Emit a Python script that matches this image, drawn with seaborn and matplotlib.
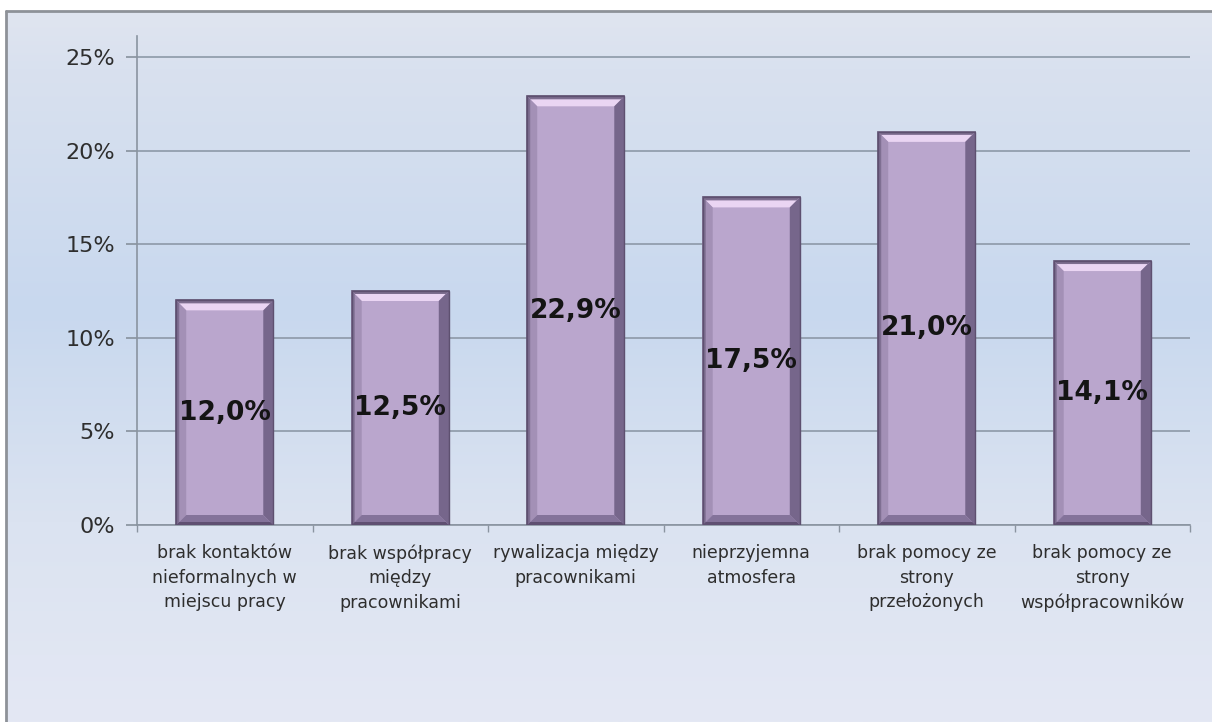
import numpy as np
import matplotlib
matplotlib.use("Agg")
import matplotlib.pyplot as plt
import seaborn as sns
from matplotlib.patches import Polygon
from matplotlib.colors import LinearSegmentedColormap

categories = [
    "brak kontaktów\nnieformalnych w\nmiejscu pracy",
    "brak współpracy\nmiędzy\npracownikami",
    "rywalizacja między\npracownikami",
    "nieprzyjemna\natmosfera",
    "brak pomocy ze\nstrony\nprzełożonych",
    "brak pomocy ze\nstrony\nwspółpracowników",
]
values = [12.0, 12.5, 22.9, 17.5, 21.0, 14.1]
value_labels = ["12,0%", "12,5%", "22,9%", "17,5%", "21,0%", "14,1%"]
yticks = [0, 5, 10, 15, 20, 25]
ytick_labels = ["0%", "5%", "10%", "15%", "20%", "25%"]

sns.set_theme(style="white")
plt.rcParams["font.family"] = ["DejaVu Sans"]

W, H = 1212, 722
fig = plt.figure(figsize=(W / 100, H / 100), dpi=100)
fig.patch.set_facecolor("white")

# background panel with vertical gradient
bg = fig.add_axes([0, 0, 1, 1], zorder=-10)
bg.set_xlim(0, W)
bg.set_ylim(H, 0)
bg.axis("off")
cmap = LinearSegmentedColormap.from_list(
    "bgc",
    [(0.0, "#e0e5f0"), (0.08, "#d9e1ef"), (0.42, "#c8d8ee"),
     (0.72, "#dbe3f1"), (1.0, "#e4e8f4")])
grad = np.linspace(0, 1, 256).reshape(-1, 1)
bg.imshow(grad, cmap=cmap, aspect="auto", extent=[6, W, H, 11], zorder=0)
bg.plot([6, 6], [11, H], color="#8e9298", lw=2, zorder=1)
bg.plot([6, W], [11, 11], color="#8e9298", lw=2, zorder=1)

# main axes
ax_left, ax_right, ax_top, ax_bottom = 137, 1190, 36, 525
ymax = 25 + (57 - 36) / ((525 - 57) / 25)
ax = fig.add_axes([ax_left / W, (H - ax_bottom) / H,
                   (ax_right - ax_left) / W, (ax_bottom - ax_top) / H])
ax.set_facecolor("none")

sns.barplot(x=list(range(len(values))), y=values, ax=ax, width=0.553,
            color="#baa6cd", saturation=1, edgecolor="#5e5070", linewidth=1.2,
            zorder=3)
ax.set_xlim(-0.5, len(values) - 0.5)
ax.set_ylim(0, ymax)

# bevel effect on bars
px_x = (ax_right - ax_left) / len(values)
px_y = (ax_bottom - ax_top) / ymax
bx = 10 / px_x
by = 10 / px_y
lx = 3 / px_x
ly = 3 / px_y
for p in ax.patches:
    x0, w, h = p.get_x(), p.get_width(), p.get_height()
    x1 = x0 + w
    faces = [
        ([(x0, h), (x1, h), (x1 - bx, h - by), (x0 + bx, h - by)], "#ead5f3"),
        ([(x0, h), (x1, h), (x1 - lx, h - ly), (x0 + lx, h - ly)], "#7d6d8f"),
        ([(x0, 0), (x0, h), (x0 + bx, h - by), (x0 + bx, by)], "#a390b6"),
        ([(x0, 0), (x0, h), (x0 + lx, h - ly), (x0 + lx, ly)], "#7f6f92"),
        ([(x1, 0), (x1, h), (x1 - bx, h - by), (x1 - bx, by)], "#76668b"),
        ([(x0, 0), (x1, 0), (x1 - bx, by), (x0 + bx, by)], "#84739a"),
        ([(x0, 0), (x1, 0), (x1 - lx, ly), (x0 + lx, ly)], "#5f5072"),
    ]
    for pts, c in faces:
        ax.add_patch(Polygon(pts, closed=True, facecolor=c, edgecolor="none",
                             zorder=4))
    ax.add_patch(Polygon([(x0, 0), (x0, h), (x1, h), (x1, 0)], closed=True,
                         facecolor="none", edgecolor="#5e5070", lw=1.0,
                         zorder=5))

for i, (v, lab) in enumerate(zip(values, value_labels)):
    ax.text(i, v / 2, lab, ha="center", va="center", fontsize=19,
            fontweight="bold", color="#141414", zorder=6)

# axes styling
ax.set_yticks(yticks)
ax.set_yticklabels(ytick_labels, fontsize=16, color="#2e2e2e")
ax.yaxis.grid(True, color="#8d99a8", lw=1.2, zorder=1)
ax.xaxis.grid(False)
ax.set_axisbelow(True)
ax.set_xticks(range(len(values)))
ax.set_xticklabels(categories, fontsize=12.5, color="#2e2e2e",
                   linespacing=1.45, va="top")
ax.set_xticks([i - 0.5 for i in range(len(values) + 1)], minor=True)
ax.tick_params(axis="x", which="major", length=0, pad=14)
ax.tick_params(axis="x", which="minor", length=5, color="#8a94a0",
               direction="out", bottom=True)
ax.tick_params(axis="y", length=8, color="#8a94a0", direction="out", left=True,
               pad=8)
for s in ["top", "right"]:
    ax.spines[s].set_visible(False)
for s in ["left", "bottom"]:
    ax.spines[s].set_color("#8a94a0")
    ax.spines[s].set_linewidth(1.2)
ax.set_xlabel("")
ax.set_ylabel("")

fig.savefig("out.png", dpi=100)
